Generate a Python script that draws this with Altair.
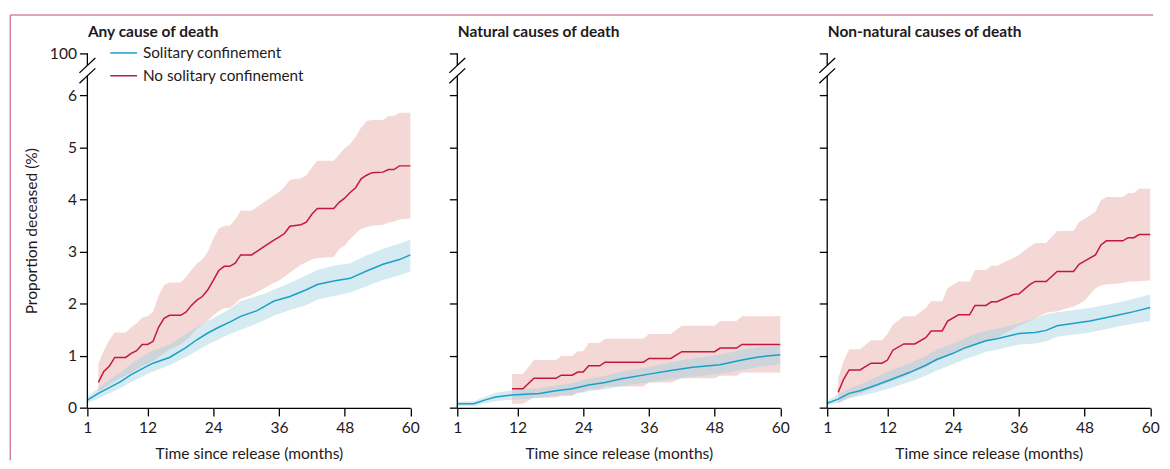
import altair as alt
import pandas as pd

FONT = "Lato"
SERIES = ["Solitary confinement", "No solitary confinement"]
PANEL_TITLES = ["Any cause of death", "Natural causes of death", "Non-natural causes of death"]
X_TICKS = [1, 12, 24, 36, 48, 60]
Y_TICKS = [0, 1, 2, 3, 4, 5, 6]
Y_TOP = 6.81            # axis position that carries the "100" label (broken axis)
AXIS_SEGMENTS_LO = [0, 6.58]
AXIS_SEGMENTS_HI = [6.38, 6.81]
BREAK_A = [6.437, 6.237]
BREAK_B = [6.723, 6.523]

BLUE = "#1a9fc9"
RED = "#c4173f"
PINK = "#f3d8d6"
BLUE_BAND = "#a2d3e0"
FRAME = "#d9849c"
INK = "#1f1a1c"

# ---------------- Panel 1: any cause of death ----------------
p1_sol_month = [1, 3, 5, 7, 9, 12, 13, 16, 19, 21, 23, 25, 27, 29, 32, 34, 35, 38, 41, 43, 46, 49, 52, 55, 58, 60]
p1_sol_est = [0.15, 0.28, 0.39, 0.50, 0.64, 0.81, 0.86, 0.97, 1.16, 1.31, 1.44, 1.55, 1.65, 1.76, 1.87, 1.99, 2.05, 2.14, 2.27, 2.37, 2.44, 2.49, 2.63, 2.76, 2.85, 2.94]
p1_sol_lo = [0.09, 0.18, 0.28, 0.38, 0.50, 0.65, 0.70, 0.82, 0.98, 1.10, 1.22, 1.32, 1.42, 1.50, 1.62, 1.72, 1.77, 1.88, 1.98, 2.08, 2.15, 2.22, 2.34, 2.46, 2.55, 2.62]
p1_sol_hi = [0.22, 0.38, 0.54, 0.68, 0.85, 1.05, 1.10, 1.22, 1.42, 1.55, 1.67, 1.78, 1.90, 2.05, 2.15, 2.22, 2.27, 2.40, 2.55, 2.65, 2.73, 2.78, 2.93, 3.06, 3.16, 3.23]

p1_no_month = [3, 4, 5, 6, 8, 9, 10, 11, 12, 13, 14, 15, 16, 18, 19, 20, 21, 22, 23, 24, 25, 26, 27, 28, 29, 31, 33, 35, 36, 37, 38, 40, 41, 42, 43, 46, 47, 48, 49, 50, 51, 52, 53, 55, 56, 57, 58, 60]
p1_no_est = [0.49, 0.70, 0.80, 0.97, 0.97, 1.05, 1.10, 1.22, 1.22, 1.28, 1.55, 1.72, 1.78, 1.78, 1.84, 1.97, 2.07, 2.14, 2.27, 2.45, 2.64, 2.72, 2.72, 2.78, 2.94, 2.94, 3.08, 3.22, 3.28, 3.35, 3.49, 3.52, 3.57, 3.72, 3.83, 3.83, 3.95, 4.03, 4.14, 4.23, 4.40, 4.47, 4.52, 4.53, 4.58, 4.58, 4.65, 4.65]
p1_no_lo = [0.30, 0.38, 0.45, 0.52, 0.62, 0.68, 0.74, 0.80, 0.85, 0.90, 0.97, 1.05, 1.12, 1.22, 1.30, 1.40, 1.52, 1.60, 1.68, 1.78, 1.86, 1.92, 1.92, 2.00, 2.10, 2.17, 2.28, 2.40, 2.45, 2.52, 2.60, 2.75, 2.80, 2.85, 2.88, 2.90, 3.05, 3.12, 3.25, 3.35, 3.44, 3.47, 3.50, 3.52, 3.56, 3.58, 3.62, 3.64]
p1_no_hi = [0.85, 1.10, 1.30, 1.45, 1.45, 1.55, 1.62, 1.74, 1.76, 1.85, 2.15, 2.36, 2.41, 2.41, 2.51, 2.65, 2.77, 2.85, 3.00, 3.25, 3.44, 3.50, 3.50, 3.62, 3.79, 3.79, 3.93, 4.08, 4.15, 4.25, 4.38, 4.41, 4.47, 4.62, 4.75, 4.75, 4.87, 4.99, 5.07, 5.21, 5.38, 5.51, 5.53, 5.53, 5.61, 5.61, 5.67, 5.67]

# ---------------- Panel 2: natural causes ----------------
p2_sol_month = [1, 4, 6, 8, 11, 16, 19, 22, 25, 28, 31, 36, 40, 44, 49, 53, 56, 60]
p2_sol_est = [0.08, 0.08, 0.15, 0.21, 0.25, 0.28, 0.33, 0.37, 0.44, 0.49, 0.56, 0.65, 0.72, 0.78, 0.83, 0.92, 0.98, 1.02]
p2_sol_lo = [0.04, 0.04, 0.09, 0.13, 0.16, 0.19, 0.23, 0.26, 0.32, 0.36, 0.42, 0.49, 0.55, 0.60, 0.65, 0.73, 0.78, 0.84]
p2_sol_hi = [0.12, 0.13, 0.21, 0.29, 0.34, 0.38, 0.43, 0.48, 0.56, 0.62, 0.70, 0.78, 0.88, 0.95, 1.02, 1.12, 1.17, 1.20]

p2_no_month = [11, 13, 15, 19, 20, 22, 23, 24, 25, 27, 28, 35, 36, 40, 42, 48, 49, 52, 53, 60]
p2_no_est = [0.37, 0.37, 0.57, 0.57, 0.63, 0.63, 0.69, 0.69, 0.81, 0.81, 0.88, 0.88, 0.95, 0.95, 1.08, 1.08, 1.15, 1.15, 1.22, 1.22]
p2_no_lo = [0.08, 0.08, 0.20, 0.20, 0.23, 0.23, 0.30, 0.30, 0.36, 0.36, 0.41, 0.41, 0.49, 0.49, 0.57, 0.57, 0.62, 0.62, 0.68, 0.68]
p2_no_hi = [0.65, 0.65, 0.92, 0.92, 1.00, 1.00, 1.09, 1.09, 1.25, 1.25, 1.33, 1.33, 1.42, 1.42, 1.58, 1.58, 1.67, 1.67, 1.76, 1.76]

# ---------------- Panel 3: non-natural causes ----------------
p3_sol_month = [1, 3, 5, 7, 10, 13, 16, 19, 21, 24, 26, 28, 30, 32, 36, 39, 41, 43, 49, 54, 57, 60]
p3_sol_est = [0.09, 0.17, 0.28, 0.33, 0.44, 0.56, 0.68, 0.82, 0.93, 1.05, 1.15, 1.22, 1.29, 1.33, 1.43, 1.45, 1.49, 1.58, 1.67, 1.78, 1.85, 1.93]
p3_sol_lo = [0.05, 0.10, 0.18, 0.23, 0.30, 0.40, 0.50, 0.62, 0.72, 0.84, 0.93, 1.00, 1.08, 1.12, 1.22, 1.24, 1.28, 1.37, 1.45, 1.56, 1.62, 1.67]
p3_sol_hi = [0.14, 0.26, 0.37, 0.45, 0.60, 0.74, 0.86, 1.00, 1.12, 1.24, 1.33, 1.42, 1.48, 1.52, 1.62, 1.72, 1.80, 1.84, 1.92, 2.02, 2.10, 2.18]

p3_no_month = [3, 4, 5, 7, 9, 11, 12, 13, 15, 17, 19, 20, 22, 23, 25, 27, 28, 30, 31, 32, 35, 36, 38, 39, 41, 43, 46, 47, 48, 50, 51, 52, 55, 56, 57, 58, 60]
p3_no_est = [0.30, 0.55, 0.73, 0.73, 0.86, 0.86, 0.92, 1.11, 1.23, 1.23, 1.35, 1.48, 1.48, 1.67, 1.79, 1.79, 1.97, 1.97, 2.04, 2.04, 2.18, 2.19, 2.37, 2.43, 2.43, 2.62, 2.62, 2.76, 2.82, 2.94, 3.13, 3.21, 3.21, 3.27, 3.27, 3.33, 3.33]
p3_no_lo = [0.08, 0.15, 0.20, 0.28, 0.36, 0.45, 0.48, 0.52, 0.60, 0.70, 0.78, 0.85, 0.95, 1.00, 1.08, 1.15, 1.22, 1.28, 1.32, 1.35, 1.52, 1.58, 1.67, 1.72, 1.83, 1.86, 1.95, 2.00, 2.06, 2.30, 2.35, 2.37, 2.40, 2.43, 2.43, 2.44, 2.45]
p3_no_hi = [0.57, 0.90, 1.13, 1.13, 1.30, 1.30, 1.42, 1.60, 1.76, 1.76, 1.92, 2.05, 2.05, 2.30, 2.43, 2.43, 2.65, 2.65, 2.73, 2.73, 2.88, 2.94, 3.10, 3.17, 3.17, 3.40, 3.40, 3.57, 3.63, 3.77, 3.99, 4.05, 4.05, 4.13, 4.13, 4.21, 4.21]

PANELS = [
    ((p1_sol_month, p1_sol_est, p1_sol_lo, p1_sol_hi), (p1_no_month, p1_no_est, p1_no_lo, p1_no_hi)),
    ((p2_sol_month, p2_sol_est, p2_sol_lo, p2_sol_hi), (p2_no_month, p2_no_est, p2_no_lo, p2_no_hi)),
    ((p3_sol_month, p3_sol_est, p3_sol_lo, p3_sol_hi), (p3_no_month, p3_no_est, p3_no_lo, p3_no_hi)),
]

W = 325.5
H = 357.3
FS = 15.7


def make_df(sol, no):
    rows = []
    for name, (m, e, lo, hi) in zip(SERIES, (sol, no)):
        for a, b, c, d in zip(m, e, lo, hi):
            rows.append({"series": name, "month": a, "est": b, "lo": c, "hi": d})
    return pd.DataFrame(rows)


X_SCALE = alt.Scale(domain=[1, 60], nice=False, zero=False)
Y_SCALE = alt.Scale(domain=[0, Y_TOP], nice=False, zero=True)


def x_enc():
    return alt.X("month:Q", scale=X_SCALE, title="Time since release (months)",
                 axis=alt.Axis(values=X_TICKS, labelFlush=False, labelOverlap=False, grid=False))


def y_enc(field, first):
    return alt.Y(f"{field}:Q", scale=Y_SCALE,
                 title="Proportion deceased (%)" if first else None,
                 axis=alt.Axis(values=Y_TICKS + [Y_TOP], labels=first, domain=False, grid=False,
                               labelExpr="datum.value > 6.5 ? '100' : datum.label"))


def panel(i):
    first = i == 0
    sol, no = PANELS[i]
    df = make_df(sol, no)
    base = alt.Chart(df)
    red_band = base.transform_filter(alt.datum.series == SERIES[1]).mark_area(
        color=PINK, opacity=1).encode(x=x_enc(), y=y_enc("lo", first), y2="hi:Q")
    blue_band = base.transform_filter(alt.datum.series == SERIES[0]).mark_area(
        color=BLUE_BAND, opacity=0.45).encode(x=x_enc(), y=y_enc("lo", first), y2="hi:Q")
    legend = alt.Legend(orient="none", legendX=22, legendY=-15, title=None, symbolType="stroke",
                        symbolSize=729, symbolStrokeWidth=1.5, labelFont=FONT, labelFontSize=15.4,
                        labelColor=INK, labelOffset=5, labelLimit=400, rowPadding=-5,
                        padding=0) if first else None
    lines = base.mark_line(strokeWidth=1.5).encode(
        x=x_enc(), y=y_enc("est", first),
        color=alt.Color("series:N", scale=alt.Scale(domain=SERIES, range=[BLUE, RED]), legend=legend),
        detail="series:N")
    seg_df = pd.DataFrame({"a": AXIS_SEGMENTS_LO, "b": AXIS_SEGMENTS_HI})
    axis_line = alt.Chart(seg_df).mark_rule(color="black", strokeWidth=1.3).encode(
        x=alt.value(0), y=y_enc("a", first), y2="b:Q")
    brk_df = pd.DataFrame({"a": BREAK_A, "b": BREAK_B})
    brk = alt.Chart(brk_df).mark_rule(color="black", strokeWidth=1.3).encode(
        x=alt.value(-8), x2=alt.value(8), y=y_enc("a", first), y2="b:Q")
    one = pd.DataFrame({"k": [0]})
    title = alt.Chart(one).mark_text(align="left", baseline="alphabetic", font=FONT, fontSize=15.6,
                                     fontWeight="bold", color=INK).encode(
        x=alt.value(0.5), y=alt.value(-16.5), text=alt.value(PANEL_TITLES[i]))
    layers = [red_band, blue_band, lines, axis_line, brk, title]
    if first:
        top = alt.Chart(one).mark_rule(color=FRAME, strokeWidth=1.5).encode(
            x=alt.value(-77.7), x2=alt.value(1074), y=alt.value(-38.7))
        left = alt.Chart(one).mark_rule(color=FRAME, strokeWidth=1.5).encode(
            x=alt.value(-77.7), y=alt.value(-38.7), y2=alt.value(410))
        layers = [top, left] + layers
    return alt.layer(*layers).properties(width=W, height=H)


chart = alt.hconcat(panel(0), panel(1), panel(2), spacing=46.8, bounds="flush").resolve_scale(
    color="independent").resolve_legend(color="independent").properties(
    padding={"left": 1, "top": 4, "right": 2, "bottom": 2}
).configure_view(strokeWidth=0).configure_axis(
    domainColor="black", domainWidth=1.3, tickColor="black", tickWidth=1.3, tickSize=8,
    labelFont=FONT, labelFontSize=FS, labelColor=INK, labelPadding=3,
    titleFont=FONT, titleFontSize=FS, titleFontWeight="normal", titleColor=INK
).configure_axisX(labelPadding=5, titlePadding=11).configure_axisY(titlePadding=10)

chart.save("out.html", embed_options={"renderer": "svg", "actions": False})
